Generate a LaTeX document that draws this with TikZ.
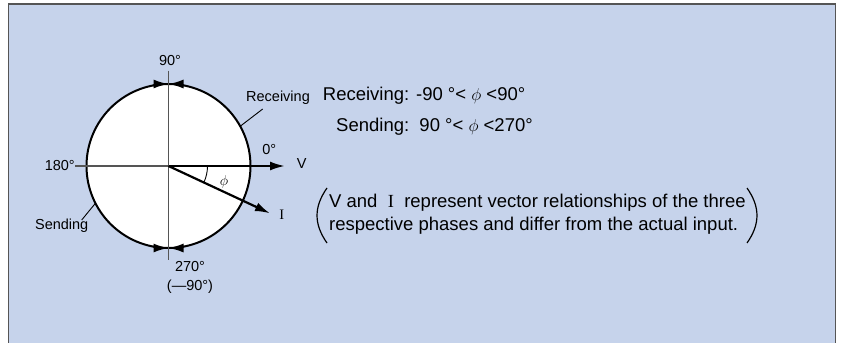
\documentclass[tikz,border=0pt]{standalone}
\usepackage{fontspec}
\setmainfont{Liberation Sans}
\newfontfamily\seriffont{Liberation Serif}
\usetikzlibrary{arrows.meta}
\definecolor{panelblue}{HTML}{C6D3EB}
\definecolor{framegray}{HTML}{555555}
\tikzset{
  lbl/.style={font=\fontsize{14.5bp}{17bp}\selectfont, inner sep=0pt},
  txt/.style={font=\fontsize{18.5bp}{23bp}\selectfont, inner sep=0pt},
  vec/.style={line width=2.2bp, -{Latex[length=15bp,width=9bp]}},
  axis/.style={framegray, line width=1.4bp},
  marktip/.style={line width=2bp, -{Latex[length=15bp,width=9bp]}},
  leader/.style={line width=0.9bp},
  paren/.style={line width=1.2bp},
}
\begin{document}
\begin{tikzpicture}[x=1bp,y=1bp]
  \useasboundingbox (0,0) rectangle (842,342);
  \fill[panelblue] (8.5,-1) rectangle (835.5,338);
  \draw[framegray, line width=1.2bp] (8.5,-1) -- (8.5,338) -- (835.5,338) -- (835.5,-1);

  % phase circle
  \coordinate (O) at (168.5,176);
  \draw[fill=white, line width=2bp] (O) circle[radius=82];
  \coordinate (top) at (168.5,271.5);
  \coordinate (bot) at (168.5,82);
  \coordinate (left) at (75,176);
  \coordinate (Vtip) at (285,176);
  \coordinate (Itip) at ([shift={(-25:112)}]O);
  \draw[axis] (top) -- (bot);
  \draw[axis] (left) -- (O);
  \draw[vec] (O) -- (Vtip);
  \draw[vec] (O) -- (Itip);
  \draw[line width=0.9bp] ([shift={(0:39)}]O) arc[start angle=0, end angle=-25, radius=39];

  % arrow marks at 90 and 270
  \draw[marktip] ([shift={(101:82)}]O) arc[start angle=101, end angle=90, radius=82];
  \draw[marktip] ([shift={(79:82)}]O) arc[start angle=79, end angle=90, radius=82];
  \draw[marktip] ([shift={(259:82)}]O) arc[start angle=259, end angle=270, radius=82];
  \draw[marktip] ([shift={(281:82)}]O) arc[start angle=281, end angle=270, radius=82];

  % labels
  \node[lbl] (deg90) at (170,281) {90°};
  \node[lbl, anchor=east] (deg180) at (left) {180°};
  \node[lbl] (deg0) at (269.3,192.7) {0°};
  \node[lbl] (V) at (301.7,178.7) {V};
  \node[lbl] (I) at (281.7,127) {\seriffont I};
  \node[lbl] (phi) at (224,160.3) {$\phi$};
  \node[lbl] (deg270) at (190,75) {270°};
  \node[lbl] (degm90) at (190,55) {(—90°)};
  \node[lbl] (recv) at (278,244) {Receiving};
  \node[lbl] (send) at (61.7,116) {Sending};
  \draw[leader] (262.7,233) -- ([shift={(29:82)}]O);
  \draw[leader] (81.7,122) -- ([shift={(207:82)}]O);

  % conditions
  \node[txt, anchor=base west] (recvcond) at (322.7,241.3) {Receiving: -90 °< $\phi$ <90°};
  \node[txt, anchor=base west] (sendcond) at (336,210.3) {Sending:\ \ 90 °< $\phi$ <270°};
  \node[txt, anchor=west] (note) at (329,128) {\begin{tabular}{@{}l@{}}V and\ \ {\seriffont I}\ \ represent vector relationships of the three\\respective phases and differ from the actual input.\end{tabular}};
  \draw[paren] (327,154) .. controls (313.7,135) and (313.7,118) .. (327,99);
  \draw[paren] (747,154) .. controls (760.3,135) and (760.3,118) .. (747,99);
\end{tikzpicture}
\end{document}
